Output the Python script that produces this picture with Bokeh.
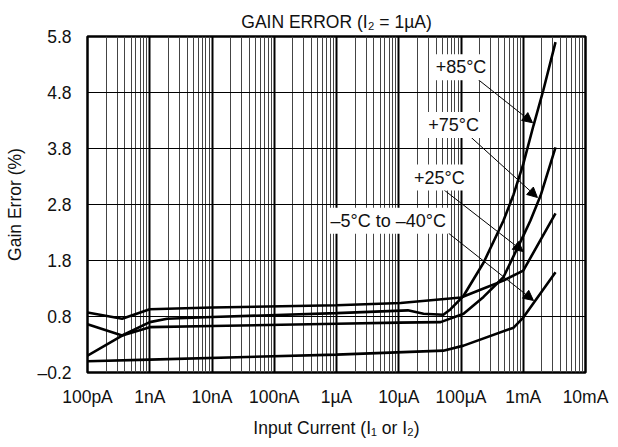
from bokeh.plotting import figure
from bokeh.models import (Range1d, FixedTicker, CustomJSTickFormatter, Title, Label,
                          Arrow, NormalHead)
from bokeh.embed import file_html
from bokeh.resources import INLINE

# ---- data (input current in A, gain error in %) ----
t85_x = [1e-10, 3.6e-10, 1e-9, 1.9e-9, 1e-8, 1e-6, 1.4e-5, 2.5e-5, 5.2e-5, 6.8e-5,
         1.1e-4, 2.3e-4, 4.8e-4, 7e-4, 1e-3, 1.46e-3, 2.1e-3, 3.3e-3]
t85_y = [0.10, 0.46, 0.70, 0.76, 0.79, 0.86, 0.91, 0.85, 0.83, 0.93,
         1.17, 1.76, 2.51, 2.98, 3.52, 4.21, 4.84, 5.70]

t75_x = [1e-10, 3.6e-10, 1e-9, 1e-8, 1e-6, 1e-5, 4.7e-5, 1.1e-4, 2.3e-4, 4.8e-4,
         1e-3, 1.3e-3, 1.9e-3, 3.3e-3]
t75_y = [0.66, 0.46, 0.61, 0.63, 0.67, 0.69, 0.70, 0.85, 1.15, 1.50,
         2.24, 2.51, 2.96, 3.82]

t25_x = [1e-10, 3.6e-10, 1e-9, 1e-8, 1e-6, 1.07e-5, 1e-4, 2.3e-4, 4.8e-4, 1e-3, 3.3e-3]
t25_y = [0.87, 0.76, 0.93, 0.96, 1.00, 1.04, 1.14, 1.30, 1.44, 1.62, 2.64]

tlow_x = [1e-10, 1e-9, 1e-6, 5.2e-5, 1.1e-4, 7e-4, 1e-3, 3.3e-3]
tlow_y = [0.0, 0.03, 0.12, 0.19, 0.28, 0.60, 0.78, 1.59]

curves = [(t85_x, t85_y), (t75_x, t75_y), (t25_x, t25_y), (tlow_x, tlow_y)]

x_ticks = [1e-10, 1e-9, 1e-8, 1e-7, 1e-6, 1e-5, 1e-4, 1e-3, 1e-2]
x_tick_labels = ["100pA", "1nA", "10nA", "100nA", "1\u00b5A", "10\u00b5A", "100\u00b5A", "1mA", "10mA"]
y_ticks = [-0.2, 0.8, 1.8, 2.8, 3.8, 4.8, 5.8]

# annotation texts, label anchor (x, y), arrow start and tip
ann_texts = ["+85\u00b0C", "+75\u00b0C", "+25\u00b0C", "\u20135\u00b0C to \u201340\u00b0C"]
ann_x = [1.0e-4, 7.6e-5, 4.5e-5, 6.8e-6]
ann_y = [5.25, 4.22, 3.28, 2.51]
arr_x0 = [1.42e-4, 1.18e-4, 5.2e-5, 6.1e-5]
arr_y0 = [5.14, 4.09, 3.07, 2.30]
arr_x1 = [1.41e-3, 1.69e-3, 1.0e-3, 1.46e-3]
arr_y1 = [4.26, 2.925, 1.96, 1.086]

FONT = "Liberation Sans"
FS = "17.5px"
TXT = "#111111"

p = figure(width=610, height=440, x_axis_type="log",
           x_range=Range1d(1e-10, 1e-2), y_range=Range1d(-0.2, 5.8),
           output_backend="svg", toolbar_location=None,
           min_border_left=87, min_border_right=25, min_border_top=36, min_border_bottom=68)
p.title = Title(text="GAIN ERROR (I\u2082 = 1\u00b5A)", align="center", standoff=10,
                text_font=FONT, text_font_size=FS, text_font_style="normal",
                text_color=TXT)

p.outline_line_color = "black"
p.outline_line_width = 2.5
p.background_fill_color = "white"
p.border_fill_color = "white"

minor = [k * 10.0 ** d for d in range(-10, -2) for k in range(2, 10)]
p.xaxis.ticker = FixedTicker(ticks=x_ticks, minor_ticks=minor)
p.xaxis.formatter = CustomJSTickFormatter(args=dict(labels=x_tick_labels),
                                          code="return labels[Math.round(Math.log10(tick)) + 10];")
p.yaxis.ticker = FixedTicker(ticks=y_ticks)
p.yaxis.formatter = CustomJSTickFormatter(
    code="return tick < 0 ? '\u2013' + Math.abs(tick).toFixed(1) : tick.toFixed(1);")

p.xaxis.axis_label = "Input Current (I\u2081 or I\u2082)"
p.yaxis.axis_label = "Gain Error (%)"

for ax in (p.xaxis, p.yaxis):
    ax.axis_line_color = None
    ax.major_tick_in = 0
    ax.major_tick_out = 0
    ax.minor_tick_in = 0
    ax.minor_tick_out = 0
    ax.major_label_text_font = FONT
    ax.major_label_text_font_size = FS
    ax.major_label_text_color = TXT
    ax.axis_label_text_font = FONT
    ax.axis_label_text_font_size = FS
    ax.axis_label_text_font_style = "normal"
    ax.axis_label_text_color = TXT
p.xaxis.major_label_standoff = 14
p.yaxis.major_label_standoff = 16
p.xaxis.axis_label_standoff = 8
p.yaxis.axis_label_standoff = 9

p.xgrid.grid_line_color = "black"
p.xgrid.grid_line_width = 2
p.xgrid.minor_grid_line_color = "#444444"
p.xgrid.minor_grid_line_width = 1
p.ygrid.grid_line_color = "black"
p.ygrid.grid_line_width = 1

for xs, ys in curves:
    p.line(xs, ys, line_color="black", line_width=2.6)

for i in range(len(ann_texts)):
    p.add_layout(Arrow(end=NormalHead(size=10, fill_color="black", line_color="black"),
                       x_start=arr_x0[i], y_start=arr_y0[i], x_end=arr_x1[i], y_end=arr_y1[i],
                       line_color="black", line_width=1))
for i in range(len(ann_texts)):
    p.add_layout(Label(x=ann_x[i], y=ann_y[i], text=ann_texts[i], text_align="center",
                       text_baseline="middle", text_font=FONT, text_font_size="18px",
                       text_color=TXT, background_fill_color="white", padding=3))

open("out.html", "w").write(file_html(p, INLINE))
